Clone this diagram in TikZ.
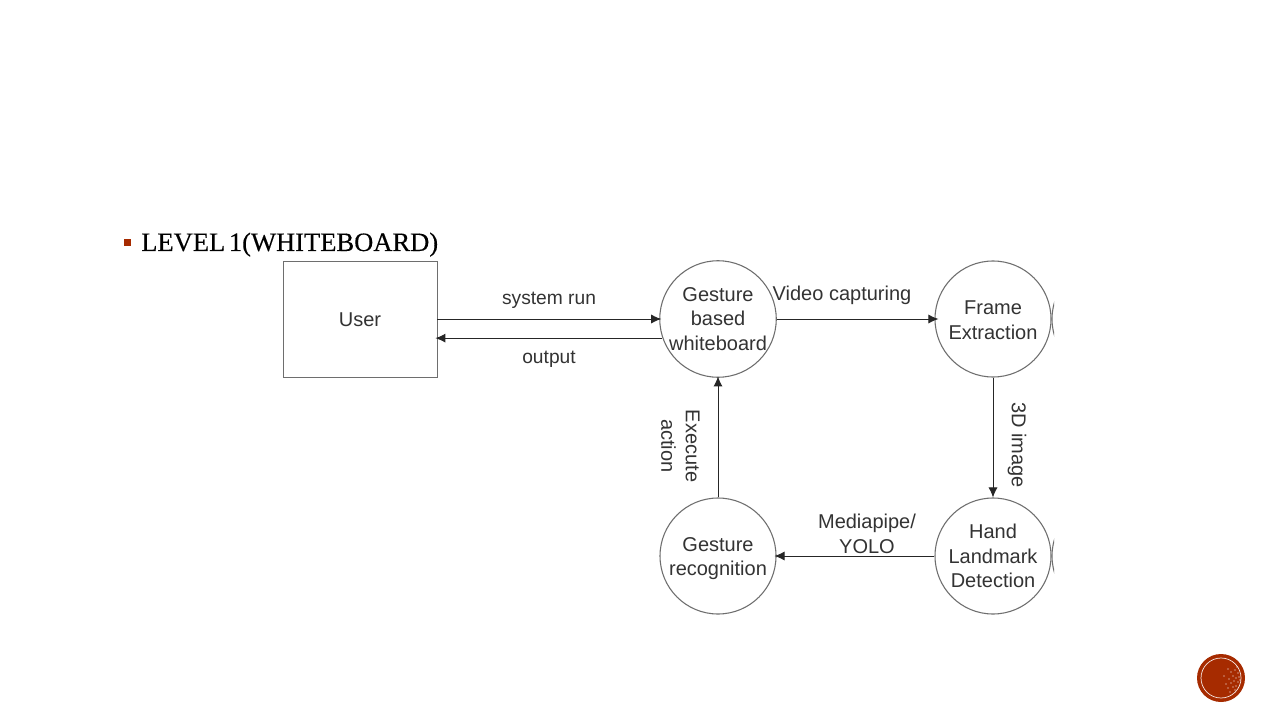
\documentclass[tikz,border=0pt]{standalone}
\usepackage{fontspec}
\setmainfont{Liberation Sans}
\newfontfamily\titlefont[WordSpace=0.55,FakeBold=0.25]{Liberation Serif}
\usetikzlibrary{arrows.meta,calc}
\definecolor{rust}{HTML}{A62B00}
\definecolor{ink}{HTML}{333333}
\definecolor{edge}{HTML}{6E6E6E}
\tikzset{
  x=0.75pt,y=-0.75pt,
  lbl/.style={text=ink,font=\fontsize{15}{18.4}\selectfont,align=center,inner sep=0pt},
  small/.style={lbl,font=\fontsize{14.4}{18}\selectfont},
  proc/.style={circle,draw=edge,line width=0.8pt,minimum size=87pt,inner sep=0pt,text=ink,font=\fontsize{15}{18.4}\selectfont,align=center},
  ent/.style={rectangle,draw=edge,line width=0.6pt,minimum width=115.5pt,minimum height=87pt,inner sep=0pt},
  flow/.style={draw=black!85,line width=0.7pt,-{Latex[length=7.5pt,width=6.8pt]}},
}
\begin{document}
\begin{tikzpicture}
\useasboundingbox (0,0) rectangle (1280,720);
\fill[white] (0,0) rectangle (1280,720);
% title
\fill[rust] (124,239) rectangle (131,246) node[pos=0.5,inner sep=0pt] (bullet) {};
\node[anchor=base west,inner sep=0pt,font=\titlefont\fontsize{19.9}{24}\selectfont] (title) at (141,251) {LEVEL 1(WHITEBOARD)};
% nodes
\node[ent,label={[lbl,yshift=-0.75pt]center:User}] (user) at (360,319) {};
\node[proc] (gbw) at (718,319) {Gesture\\based\\whiteboard};
\node[proc,label={[lbl,yshift=-0.75pt]center:Frame\\Extraction}] (frame) at (993,319) {};
\node[proc] (hand) at (993,556) {Hand\\Landmark\\Detection};
\node[proc,label={[lbl,yshift=-2pt]center:Gesture\\recognition}] (rec) at (718,556) {};
% clipped neighbours
\begin{scope}
\clip (1040,250) rectangle (1054,620);
\node[proc] (cutA) at (1110,319) {};
\node[proc] (cutB) at (1110,556) {};
\end{scope}
% connectors
\draw[flow,shorten >=-1.5pt] (user.east) -- (gbw.west);
\draw[flow,shorten >=-1.5pt] (gbw.199) -- (gbw.199 -| user.east);
\draw[flow,shorten >=-3pt] (gbw.east) -- (frame.west);
\draw[flow] (frame.south) -- (hand.north);
\draw[flow,shorten >=-1.5pt] (hand.west) -- (rec.east);
\draw[flow,shorten >=-1pt] (rec.north) -- (gbw.south);
% labels
\node[small] (l1) at (549,300) {system run};
\node[small] (l2) at (549,359) {output};
\node[lbl] (l3) at (842,295) {Video capturing};
\node[lbl,rotate=-90] (l4) at (1017,445) {3D image};
\node[lbl] (l5) at (867,534) {Mediapipe/\\YOLO};
\node[lbl,rotate=-90] (l6) at (680.5,446) {Execute\\action};
% badge
\node[circle,fill=rust,minimum size=36pt,inner sep=0pt] (badge) at (1221,678) {};
\node[circle,draw=white,draw opacity=0.85,line width=0.55pt,minimum size=30pt,inner sep=0pt] (ring) at (1221,678) {};
\foreach \px/\py in {1228/669,1231/672,1235/670,1238/673,1233/676,1229/679,1236/678,1239/677,1226/684,1231/683,1234/681,1238/682,1228/688,1233/687,1236/686,1224/676,1230/692,1235/690,1240/680,1237/667}
  \fill[white,opacity=0.32] (\px,\py) circle (0.8pt);
\end{tikzpicture}
\end{document}
